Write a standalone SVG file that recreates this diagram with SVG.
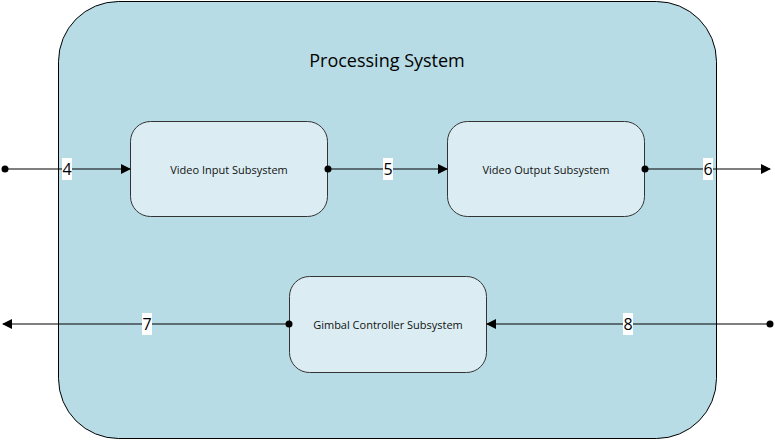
<svg xmlns="http://www.w3.org/2000/svg" width="775" height="441" viewBox="0 0 775 441">
<style>
.node rect{fill:#dbedf3;stroke:#333;stroke-width:1}
.nt{font-family:"Open Sans","Noto Sans",sans-serif;font-size:11px;fill:#111;text-anchor:middle;dominant-baseline:central}
.ln{stroke:#000;stroke-width:1;fill:none}
.lbl{font-family:"Open Sans","Noto Sans",sans-serif;font-size:16px;fill:#000;text-anchor:middle;dominant-baseline:central}
.lb{fill:#fff}
</style>
<defs>
<marker id="arr" markerWidth="10" markerHeight="10" refX="9" refY="5" orient="auto" markerUnits="userSpaceOnUse"><path d="M0,0 L10,5 L0,10 Z" fill="#000"/></marker>
<marker id="dot" markerWidth="8" markerHeight="8" refX="4" refY="4" markerUnits="userSpaceOnUse"><circle cx="4" cy="4" r="3.5" fill="#000"/></marker>
</defs>
<rect width="775" height="441" fill="#fff"/>
<g id="processing-system">
<rect x="58.5" y="1.5" width="658" height="437" rx="60" ry="60" fill="#b8dce6" stroke="#000" stroke-width="1"/>
<text x="387" y="60" font-family="'Open Sans','Noto Sans',sans-serif" font-size="18" text-anchor="middle" dominant-baseline="central" fill="#000">Processing System</text>
</g>
<g id="video-input" class="node">
<rect x="130.5" y="121.5" width="197" height="95" rx="20" ry="20"/>
<text class="nt" x="229" y="169">Video Input Subsystem</text>
</g>
<g id="video-output" class="node">
<rect x="447.5" y="121.5" width="197" height="95" rx="20" ry="20"/>
<text class="nt" x="546" y="169">Video Output Subsystem</text>
</g>
<g id="gimbal-controller" class="node">
<rect x="289.5" y="276.5" width="197" height="96" rx="20" ry="20"/>
<text class="nt" x="388" y="324">Gimbal Controller Subsystem</text>
</g>
<g id="connectors">
<path class="ln" d="M5,169 H130" marker-start="url(#dot)" marker-end="url(#arr)"/>
<path class="ln" d="M328,169 H447" marker-start="url(#dot)" marker-end="url(#arr)"/>
<path class="ln" d="M645,169 H770" marker-start="url(#dot)" marker-end="url(#arr)"/>
<path class="ln" d="M289,324 H3" marker-start="url(#dot)" marker-end="url(#arr)"/>
<path class="ln" d="M770,324 H487" marker-start="url(#dot)" marker-end="url(#arr)"/>
<rect class="lb" x="62" y="158" width="10" height="22"/><text class="lbl" x="67" y="169">4</text>
<rect class="lb" x="383" y="158" width="10" height="22"/><text class="lbl" x="388" y="169">5</text>
<rect class="lb" x="703" y="158" width="10" height="22"/><text class="lbl" x="708" y="169">6</text>
<rect class="lb" x="142" y="313" width="10" height="22"/><text class="lbl" x="147" y="324">7</text>
<rect class="lb" x="623" y="313" width="10" height="22"/><text class="lbl" x="628" y="324">8</text>
</g>
</svg>
